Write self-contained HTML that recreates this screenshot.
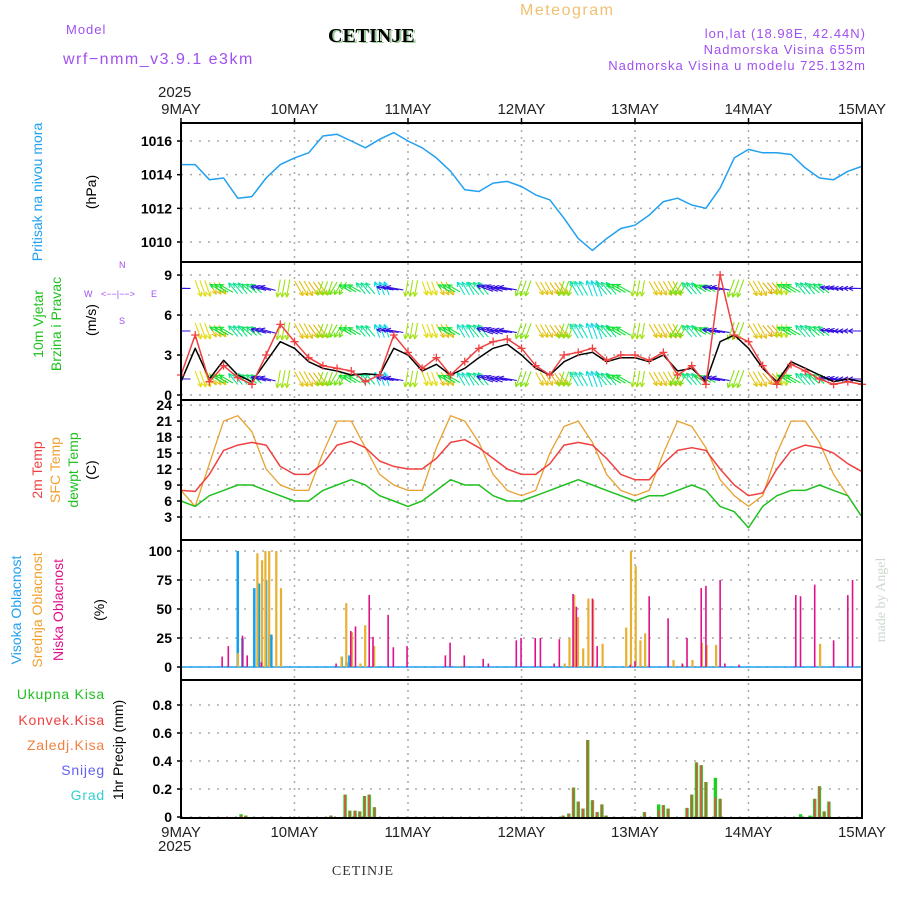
<!DOCTYPE html>
<html><head><meta charset="utf-8">
<style>
html,body{margin:0;padding:0;background:#fff;}
body{width:900px;height:900px;overflow:hidden;position:relative;font-family:"Liberation Sans",sans-serif;}
</style></head>
<body>
<svg id="chart" width="900" height="900" viewBox="0 0 900 900" xmlns="http://www.w3.org/2000/svg" style="position:absolute;left:0;top:0;font-family:'Liberation Sans',sans-serif;">
<defs><clipPath id="windclip"><rect x="181" y="262" width="681" height="138"/></clipPath></defs>
<text x="520" y="15" font-size="16" fill="#f0c070" letter-spacing="1.5">Meteogram</text>
<text x="66" y="34" font-size="13" fill="#a050f0" letter-spacing="1">Model</text>
<text x="330" y="43" font-size="20" font-weight="bold" font-family="'Liberation Serif',serif" fill="#9c9">CETINJE</text>
<text x="328" y="42" font-size="20" font-weight="bold" font-family="'Liberation Serif',serif" fill="#000">CETINJE</text>
<text x="63" y="64" font-size="16" fill="#a050f0" letter-spacing="1.5">wrf−nmm_v3.9.1 e3km</text>
<text x="866" y="38" font-size="13" fill="#a050f0" text-anchor="end" letter-spacing="1">lon,lat (18.98E, 42.44N)</text>
<text x="866" y="54" font-size="13" fill="#a050f0" text-anchor="end" letter-spacing="1">Nadmorska Visina 655m</text>
<text x="866" y="70" font-size="13" fill="#a050f0" text-anchor="end" letter-spacing="1">Nadmorska Visina u modelu 725.132m</text>
<text x="158" y="97" font-size="15" fill="#222">2025</text>
<text x="158" y="851" font-size="15" fill="#222">2025</text>
<text x="363" y="875" font-size="14" font-family="'Liberation Serif',serif" fill="#333" text-anchor="middle" letter-spacing="1">CETINJE</text>
<text transform="translate(885,600) rotate(-90)" font-size="14" font-family="'Liberation Serif',serif" fill="#cdd8cd" text-anchor="middle">made by Angel</text>
<text transform="translate(42,192) rotate(-90)" font-size="14" fill="#20a0f0" text-anchor="middle">Pritisak na nivou mora</text>
<text transform="translate(96,192) rotate(-90)" font-size="14" fill="#000" text-anchor="middle">(hPa)</text>
<text transform="translate(43,324) rotate(-90)" font-size="14" fill="#20c020" text-anchor="middle">10m Vjetar</text>
<text transform="translate(61,324) rotate(-90)" font-size="14" fill="#20c020" text-anchor="middle">Brzina i Pravac</text>
<text transform="translate(96,320) rotate(-90)" font-size="14" fill="#000" text-anchor="middle">(m/s)</text>
<g font-size="9" fill="#a050f0">
<text x="119" y="268">N</text>
<text x="84" y="297">W</text>
<text x="151" y="297">E</text>
<text x="119" y="324">S</text>
<text x="101" y="297">&lt;−−|−−&gt;</text>
</g>
<text transform="translate(42,470) rotate(-90)" font-size="14" fill="#f04040" text-anchor="middle">2m Temp</text>
<text transform="translate(60,470) rotate(-90)" font-size="14" fill="#f0a030" text-anchor="middle">SFC Temp</text>
<text transform="translate(78,470) rotate(-90)" font-size="14" fill="#20c020" text-anchor="middle">dewpt Temp</text>
<text transform="translate(96,470) rotate(-90)" font-size="14" fill="#000" text-anchor="middle">(C)</text>
<text transform="translate(21,610) rotate(-90)" font-size="14" fill="#20a0f0" text-anchor="middle">Visoka Oblacnost</text>
<text transform="translate(42,610) rotate(-90)" font-size="14" fill="#f0a030" text-anchor="middle">Srednja Oblacnost</text>
<text transform="translate(63,610) rotate(-90)" font-size="14" fill="#e0108a" text-anchor="middle">Niska Oblacnost</text>
<text transform="translate(104,610) rotate(-90)" font-size="14" fill="#000" text-anchor="middle">(%)</text>
<g font-size="14" text-anchor="end" letter-spacing="0.8">
<text x="105" y="699" fill="#20c020">Ukupna Kisa</text>
<text x="105" y="725" fill="#f04040">Konvek.Kisa</text>
<text x="105" y="750" fill="#f08040">Zaledj.Kisa</text>
<text x="105" y="775" fill="#6060f0">Snijeg</text>
<text x="105" y="800" fill="#30d0d0">Grad</text>
</g>
<text transform="translate(123,750) rotate(-90)" font-size="14" fill="#000" text-anchor="middle">1hr Precip (mm)</text>
<g id="plot"></g>
</svg>
<script>
const dayLabels = ["9MAY","10MAY","11MAY","12MAY","13MAY","14MAY","15MAY"];
const pressure = [1014.6,1014.6,1013.7,1013.8,1012.6,1012.7,1013.8,1014.6,
 1015.0,1015.3,1016.3,1016.4,1016.0,1015.6,1016.1,1016.5,
 1016.0,1015.6,1015.0,1014.2,1013.1,1013.0,1013.5,1013.6,
 1013.3,1012.8,1012.5,1011.4,1010.2,1009.5,1010.2,1010.8,
 1011.0,1011.6,1012.4,1012.6,1012.2,1012.0,1013.2,1015.0,
 1015.5,1015.3,1015.3,1015.2,1014.4,1013.8,1013.7,1014.2,1014.5];
const windSpeed = [1,3.5,1.2,2.6,1.5,1.0,2.5,4.0, 3.5,2.5,2.0,1.8,1.5,1.6,1.5,3.5,
 3.0,1.8,2.3,1.5,2.0,2.8,3.5,3.8, 3.0,2.0,1.5,2.5,3.0,3.2,2.5,2.8,
 2.8,2.5,3.0,1.8,2.0,1.0,4.0,4.5, 3.5,2.0,1.0,2.5,2.0,1.5,1.0,1.2,1.0];
const windGust = [1.5,4.5,1.0,2.2,1.3,0.8,3.0,5.3, 4.0,2.8,2.2,2.0,1.8,1.0,1.5,4.5,
 3.2,2.0,2.8,1.5,2.5,3.5,4.0,4.2, 3.5,2.2,1.5,3.0,3.2,3.5,2.6,3.0,
 3.0,2.6,3.2,1.5,2.2,0.8,9.0,4.5, 4.0,2.2,0.8,2.3,1.8,1.2,0.8,1.0,0.8];
const windDir = [270,160,150,300,320,310,285,190, 150,145,200,210,300,320,340,280,
 190,160,150,300,330,320,290,280, 200,150,145,200,330,340,320,300,
 190,150,150,210,320,300,280,200, 150,140,180,300,320,310,280,270,270];
const windRows = [8.0,4.8,1.2];
const temp2m = [8,7.8,11,15.5,16.5,17,16.5,12.5, 11,11,13,16.5,17.2,16,13.5,12.5,
 12,12,14,17,17.5,16,14,12, 11,11,13,16.5,17,16.5,14,11,
 10,10,13,15.5,16,15.5,12,9, 7,7.5,12,15.5,16.5,16,15,13,11.5];
const tempSfc = [8,5,13,21,22,19,12,9, 8,8,15,21,21,16,11,9, 8,8,16,22,21,17,11,8,
 7,8,15,20,21,17,11,8, 7,8,15,21,20,16,10,7, 5,7,15,21,21,17,11,7,3];
const tempDew = [6,5,7,8,9,9,8,7, 6,6,8,9,10,9,7,6, 5,6,8,10,9,9,7,6,
 6,7,8,9,10,9,8,7, 6,7,7,8,9,8,5,4, 1,5,7,8,8,9,8,7,3];
const highHours = [12,13,15.5,16.5,18,18.7,19.1,34,35.6,35];
const highVals  = [100,25,68,72,75,28,28,9,10,4];
const midHours = [11.9,16,17,17.7,18.5,20,21,33.8,34.8,36,37.8,38.8,40.7,58.9,81,82,83,83.8,84.9,86,87,89,94,95,96,97,98,104,106,108,110,111,113,135];
const midVals  = [12,98,92,100,100,100,68,9,55,30,3,36,18,1,3,25,62,43,16,59,58,20,34,100,87,23,29,6,2,6,21,19,19,20];
const lowHours = [8.7,10,13,14,17,32.8,35.9,36.9,39.8,40.6,43.8,44.9,47.8,55.9,56.9,59.9,63.9,65,70.9,71.9,74.9,76,78.9,80,82.9,83.6,87,88,95,96,99,103,106,107,110,111,114,115,118,130,131,134,138,141,142];
const lowVals  = [9,18,27,10,4,3,31,35,62,26,45,17,18,10,21,10,7,3,23,25,25,25,3,24,63,52,59,18,2,5,61,42,3,25,68,70,75,3,2,62,61,71,23,62,75];
const precipHours = [12.7,13.7,31.7,34.7,35.7,36.8,37.8,38.8,39.8,40.9,80.8,82,83,84,85,86,87,88,89,89.9,98,101,102,103,107,108,109,110,111,113,114,131,133,134,135,136,137];
const precipTotal = [0.02,0.01,0.01,0.16,0.045,0.045,0.04,0.15,0.16,0.07,0.01,0.025,0.21,0.11,0.06,0.55,0.12,0.035,0.09,0.01,0.035,0.09,0.085,0.06,0.065,0.16,0.39,0.37,0.25,0.28,0.13,0.02,0.01,0.13,0.22,0.04,0.11];
const precipConv  = [0.01,0.01,0.01,0.16,0.045,0.045,0.04,0.15,0.16,0.07,0.01,0.025,0.21,0.11,0.06,0.55,0.12,0.035,0.09,0.01,0.035,0.05,0.085,0.06,0.065,0.16,0.39,0.37,0.25,0.14,0.13,0.0,0.0,0.13,0.22,0.04,0.11];
const pTicks = [1010,1012,1014,1016];
const wTicks = [0,3,6,9];
const tTicks = [3,6,9,12,15,18,21,24];
const cTicks = [0,25,50,75,100];
const rTicks = [0,0.2,0.4,0.6,0.8];

const X0=181, X1=862, HOURS=144;
const X = h => X0 + h*(X1-X0)/HOURS;
const yP = v => 242-(v-1010)*16.83;
const yW = v => 395-v*13.33;
const yT = v => 533-v*5.33;
const yC = v => 667-v*1.16;
const yR = v => 817-v*140;
const panels = [[123,262],[262,400],[400,540],[540,680],[680,818]];
const NS="http://www.w3.org/2000/svg";
const plot=document.getElementById('plot');
function mk(tag,attrs,parent){const e=document.createElementNS(NS,tag);for(const k in attrs)e.setAttribute(k,attrs[k]);(parent||plot).appendChild(e);return e;}
const step = i => i*3;

dayLabels.forEach((d,i)=>{
  if(i===0||i===6) return;
  const g=mk('line',{x1:X(i*24),x2:X(i*24),y1:123,y2:818,stroke:'#aaa','stroke-width':1.5,'stroke-dasharray':'2,5'});
  
  
});
function hgrid(ticks,fy,fmt,name){
  ticks.forEach(t=>{
    const g=mk('line',{x1:X0,x2:X1,y1:fy(t),y2:fy(t),stroke:'#aaa','stroke-width':1.5,'stroke-dasharray':'2,7'});
    
    
    const l=mk('text',{x:172,y:fy(t)+5,'font-size':14,'font-weight':'bold','text-anchor':'end',fill:'#000'});
    l.textContent=fmt(t);
    
    
    const tk=mk('line',{x1:X0-4,x2:X0,y1:fy(t),y2:fy(t),stroke:'#000','stroke-width':1.5});
    
    
  });
}
hgrid(pTicks,yP,t=>t,'pressure');
hgrid(wTicks,yW,t=>t,'wind');
hgrid(tTicks,yT,t=>t,'temp');
hgrid(cTicks,yC,t=>t,'cloud');
hgrid(rTicks,yR,t=>t===0?'0':t.toFixed(1),'precip');

dayLabels.forEach((d,i)=>{
  const a=mk('text',{x:X(i*24),y:114,'font-size':15,'text-anchor':'middle',fill:'#222'});
  a.textContent=d;
  
  
  const b=mk('text',{x:X(i*24),y:837,'font-size':15,'text-anchor':'middle',fill:'#222'});
  b.textContent=d;
  
  
  const t1=mk('line',{x1:X(i*24),x2:X(i*24),y1:118,y2:123,stroke:'#000','stroke-width':1.5});
  
  
});

function line(arr,fy,color,w,name){
  const pts=arr.map((v,i)=>X(step(i)).toFixed(1)+','+fy(v).toFixed(1)).join(' ');
  const p=mk('polyline',{points:pts,fill:'none',stroke:color,'stroke-width':w,'stroke-linejoin':'round'});
  
  
  return p;
}
line(pressure,yP,'#20a0f0',1.5,'pressure-line');

const wg=mk('g',{'clip-path':'url(#windclip)'});


function hueFor(d){
  if(d>=100 && d<=235) return 30+(d-120)*0.7;
  if(d>235 && d<292) return 250;
  if(d>=292) return 120+(d-292)*1.3;
  return 200;
}
windRows.forEach((rv,ri)=>{
  for(let h=0;h<=HOURS;h+=1){
    const i=Math.floor(h/3);
    const d=windDir[i];
    const rad=d*Math.PI/180, L=12+windSpeed[i]*1.5;
    const cx=X(h), cy=yW(rv)-L*0.5*(-Math.cos(rad));
    const x2=cx+Math.sin(rad)*L, y2=cy-Math.cos(rad)*L;
    const col='hsl('+hueFor(d)+',85%,48%)';
    const hx1=(-Math.sin(rad+0.45)*5).toFixed(1), hy1=(Math.cos(rad+0.45)*5).toFixed(1);
    const hx2=(-Math.sin(rad-0.45)*5).toFixed(1), hy2=(Math.cos(rad-0.45)*5).toFixed(1);
    const a=mk('path',{d:`M${cx.toFixed(1)},${cy.toFixed(1)}L${x2.toFixed(1)},${y2.toFixed(1)}l${hx1},${hy1}M${x2.toFixed(1)},${y2.toFixed(1)}l${hx2},${hy2}`,stroke:col,'stroke-width':1.1,fill:'none'},wg);
    
    
  }
});
line(windSpeed,yW,'#000',1.5,'wind-speed-line');
line(windGust,yW,'#f04040',1.5,'wind-gust-line');
windGust.forEach((v,i)=>{
  const x=X(step(i)), y=yW(v);
  const m=mk('path',{d:`M${x-4},${y}h8M${x},${y-4}v8`,stroke:'#f04040','stroke-width':1.3});
  
  
});

line(tempSfc,yT,'#e8a030',1.3,'sfc-temp-line');
line(temp2m,yT,'#f04040',1.5,'temp-2m-line');
line(tempDew,yT,'#20c020',1.5,'dewpoint-line');

const base=mk('line',{x1:X0,x2:X1,y1:yC(0),y2:yC(0),stroke:'#20a0f0','stroke-width':1.5});


function bars(hours,vals,fy,color,w,off,name){
  hours.forEach((h,i)=>{
    const y=fy(vals[i]), y0=fy(0);
    const r=mk('rect',{x:X(h)+off-w/2,y:y,width:w,height:Math.max(0,y0-y),fill:color});
    
    
  });
}
bars(highHours,highVals,yC,'#10a0f0',2.5,0,'cloud-high-bar');
bars(midHours,midVals,yC,'#e8b030',2.2,0.7,'cloud-mid-bar');
bars(lowHours,lowVals,yC,'#e0108a',1.6,0,'cloud-low-bar');

bars(precipHours,precipTotal,yR,'#20d020',3.4,0,'precip-total-bar');
bars(precipHours,precipConv,yR,'#f04848',1.6,0,'precip-convective-bar');

panels.forEach((p,i)=>{
  const r=mk('rect',{x:X0,y:p[0],width:X1-X0,height:p[1]-p[0],fill:'none',stroke:'#000','stroke-width':2});
  
  
});
</script>
</body></html>
